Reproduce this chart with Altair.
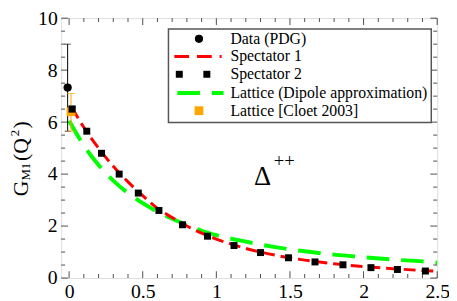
import altair as alt
import pandas as pd

# ---------------- data ----------------
# Spectator 1 (red dashed curve)
s1_q2 = [0.02, 0.1, 0.2, 0.3, 0.4, 0.5, 0.6, 0.7, 0.8, 0.9, 1.0, 1.2, 1.4, 1.6, 1.8, 2.0, 2.2, 2.4, 2.5]
s1_g = [6.55, 5.8, 5.0, 4.3, 3.7, 3.17, 2.68, 2.33, 2.0, 1.73, 1.5, 1.14, 0.88, 0.69, 0.55, 0.44, 0.36, 0.29, 0.26]

# Spectator 2 (black squares)
s2_q2 = [0.02, 0.12, 0.22, 0.34, 0.47, 0.61, 0.77, 0.94, 1.12, 1.30, 1.49, 1.67, 1.86, 2.05, 2.23, 2.42]
s2_g = [6.5, 5.65, 4.8, 4.0, 3.27, 2.6, 2.05, 1.61, 1.25, 0.98, 0.78, 0.62, 0.51, 0.40, 0.33, 0.27]

# Lattice (Dipole approximation) (green long dashes)
lat_q2 = [0.0, 0.1, 0.2, 0.3, 0.4, 0.5, 0.6, 0.7, 0.8, 0.9, 1.0, 1.2, 1.4, 1.6, 1.8, 2.0, 2.2, 2.4, 2.5]
lat_g = [6.05, 5.1, 4.35, 3.75, 3.27, 2.88, 2.55, 2.28, 2.04, 1.82, 1.65, 1.4, 1.19, 1.03, 0.9, 0.8, 0.71, 0.64, 0.59]

# Data (PDG)
pdg_q2 = [-0.01]
pdg_g = [7.33]
pdg_lo = [5.65]
pdg_hi = [9.0]

# Lattice [Cloet 2003]
cl_q2 = [0.013]
cl_g = [6.4]
cl_lo = [5.65]
cl_hi = [7.1]

# axis ticks
x_major = [0, 0.5, 1, 1.5, 2, 2.5]
x_minor = [0.1, 0.2, 0.3, 0.4, 0.6, 0.7, 0.8, 0.9, 1.1, 1.2, 1.3, 1.4,
           1.6, 1.7, 1.8, 1.9, 2.1, 2.2, 2.3, 2.4]
y_major = [0, 2, 4, 6, 8, 10]
y_minor = [0.5, 1, 1.5, 2.5, 3, 3.5, 4.5, 5, 5.5, 6.5, 7, 7.5, 8.5, 9, 9.5]

legend_labels = ["Data (PDG)", "Spectator 1", "Spectator 2",
                 "Lattice (Dipole approximation)", "Lattice [Cloet 2003]"]

# ---------------- layout ----------------
W, H = 382, 264
FONT = "Liberation Serif, Times New Roman, Times, serif"
XDOM = [-0.054, 2.5]
YDOM = [0, 10]

x_axis = alt.Axis(values=x_major, format="~g", ticks=False, domain=False, grid=False,
                  labelFont=FONT, labelFontSize=20, labelColor="black",
                  labelPadding=4, labelFlush=False, title=None)
y_axis = alt.Axis(values=y_major, format="d", ticks=False, domain=False, grid=False,
                  labelFont=FONT, labelFontSize=20, labelColor="black",
                  labelPadding=4, labelFlush=False, title=None)


def X(f):
    return alt.X(f, type="quantitative", scale=alt.Scale(domain=XDOM, nice=False, zero=False), axis=x_axis)


def Y(f):
    return alt.Y(f, type="quantitative", scale=alt.Scale(domain=YDOM, nice=False, zero=False), axis=y_axis)


def Y2(f):
    return alt.Y2(f)


s1 = pd.DataFrame({"q2": s1_q2, "g": s1_g})
s2 = pd.DataFrame({"q2": s2_q2, "g": s2_g})
lat = pd.DataFrame({"q2": lat_q2, "g": lat_g})
pdg = pd.DataFrame({"q2": pdg_q2, "g": pdg_g, "lo": pdg_lo, "hi": pdg_hi})
cl = pd.DataFrame({"q2": cl_q2, "g": cl_g, "lo": cl_lo, "hi": cl_hi})

layers = []

lat_line = alt.Chart(lat).mark_line(color="#00ff00", strokeWidth=4, strokeDash=[23, 12],
                                    interpolate="monotone").encode(x=X("q2"), y=Y("g"))
s1_line = alt.Chart(s1).mark_line(color="#ff0000", strokeWidth=3, strokeDash=[12, 6],
                                  interpolate="monotone").encode(x=X("q2"), y=Y("g"))
s2_pts = alt.Chart(s2).mark_point(shape="square", filled=True, color="black", size=50,
                                  opacity=1).encode(x=X("q2"), y=Y("g"))

pdg_bar = alt.Chart(pdg).mark_rule(color="black", strokeWidth=1).encode(
    x=X("q2"), y=Y("lo"), y2=Y2("hi"))
pdg_cap_lo = alt.Chart(pdg).mark_tick(orient="horizontal", color="black", size=6, thickness=1).encode(
    x=X("q2"), y=Y("lo"))
pdg_cap_hi = alt.Chart(pdg).mark_tick(orient="horizontal", color="black", size=6, thickness=1).encode(
    x=X("q2"), y=Y("hi"))
pdg_pt = alt.Chart(pdg).mark_point(shape="circle", filled=True, color="black", size=70,
                                   opacity=1).encode(x=X("q2"), y=Y("g"))

cl_bar = alt.Chart(cl).mark_rule(color="#ffa500", strokeWidth=1).encode(
    x=X("q2"), y=Y("lo"), y2=Y2("hi"))
cl_cap_lo = alt.Chart(cl).mark_tick(orient="horizontal", color="#ffa500", size=8, thickness=1).encode(
    x=X("q2"), y=Y("lo"))
cl_cap_hi = alt.Chart(cl).mark_tick(orient="horizontal", color="#ffa500", size=8, thickness=1).encode(
    x=X("q2"), y=Y("hi"))
cl_pt = alt.Chart(cl).mark_point(shape="square", filled=True, color="#ffa500", size=80,
                                 opacity=1).encode(x=X("q2"), y=Y("g"))

layers += [lat_line, s1_line, s2_pts, pdg_bar, pdg_cap_lo, pdg_cap_hi,
           cl_bar, cl_cap_lo, cl_cap_hi, cl_pt, s2_pts.transform_filter("datum.q2 < 0.05"), pdg_pt]

# inward ticks on all four sides
xM = pd.DataFrame({"v": x_major})
xm = pd.DataFrame({"v": x_minor})
yM = pd.DataFrame({"v": y_major})
ym = pd.DataFrame({"v": y_minor})
for df, L in ((xM, 7), (xm, 4)):
    layers.append(alt.Chart(df).mark_tick(orient="vertical", size=L, thickness=1, color="black").encode(
        x=X("v"), y=alt.value(H - L / 2)))
    layers.append(alt.Chart(df).mark_tick(orient="vertical", size=L, thickness=1, color="black").encode(
        x=X("v"), y=alt.value(L / 2)))
for df, L in ((yM, 7), (ym, 4)):
    layers.append(alt.Chart(df).mark_tick(orient="horizontal", size=L, thickness=1, color="black").encode(
        y=Y("v"), x=alt.value(L / 2)))
    layers.append(alt.Chart(df).mark_tick(orient="horizontal", size=L, thickness=1, color="black").encode(
        y=Y("v"), x=alt.value(W - L / 2)))

# ---------------- legend (drawn manually) ----------------
one = pd.DataFrame({"k": [0]})
layers.append(alt.Chart(one).mark_rect(fill="white", stroke="#555555", strokeWidth=1.5).encode(
    x=alt.value(109), x2=alt.value(376), y=alt.value(11), y2=alt.value(106)))
rows_y = [21, 39, 57, 76, 94]
for lab, ry in zip(legend_labels, rows_y):
    layers.append(alt.Chart(pd.DataFrame({"t": [lab]})).mark_text(
        font=FONT, fontSize=16, align="left", baseline="middle", color="black").encode(
        x=alt.value(172), y=alt.value(ry), text="t:N"))
layers.append(alt.Chart(one).mark_point(shape="circle", filled=True, color="black", size=70, opacity=1).encode(
    x=alt.value(140), y=alt.value(rows_y[0])))
layers.append(alt.Chart(one).mark_rule(color="#ff0000", strokeWidth=3, strokeDash=[15, 8]).encode(
    x=alt.value(115), x2=alt.value(163), y=alt.value(rows_y[1])))
for sx in (120, 148):
    layers.append(alt.Chart(one).mark_point(shape="square", filled=True, color="black", size=50, opacity=1).encode(
        x=alt.value(sx), y=alt.value(rows_y[2])))
layers.append(alt.Chart(one).mark_rule(color="#00ff00", strokeWidth=4, strokeDash=[23, 12]).encode(
    x=alt.value(118), x2=alt.value(165), y=alt.value(rows_y[3])))
layers.append(alt.Chart(one).mark_point(shape="square", filled=True, color="#ffa500", size=80, opacity=1).encode(
    x=alt.value(140), y=alt.value(rows_y[4])))

# ---------------- annotations ----------------
layers.append(alt.Chart(pd.DataFrame({"t": ["Δ"]})).mark_text(
    font=FONT, fontSize=27, align="left", baseline="alphabetic", color="black").encode(
    x=alt.value(196), y=alt.value(169), text="t:N"))
layers.append(alt.Chart(pd.DataFrame({"t": ["++"]})).mark_text(
    font=FONT, fontSize=19, align="left", baseline="alphabetic", color="black").encode(
    x=alt.value(216), y=alt.value(151), text="t:N"))

# y-axis title G_M1 (Q^2), built from pieces (rotated)
title_parts = [("G", 22, -34, 181), ("M1", 13, -32, 165), ("(Q", 22, -34, 145),
               ("2", 13, -43, 120), (")", 22, -34, 112)]
for txt, fs, tx, ty in title_parts:
    layers.append(alt.Chart(pd.DataFrame({"t": [txt]})).mark_text(
        font=FONT, fontSize=fs, align="left", baseline="alphabetic", angle=270, color="black").encode(
        x=alt.value(tx), y=alt.value(ty), text="t:N"))

chart = alt.layer(*layers).properties(
    width=W, height=H,
    autosize=alt.AutoSizeParams(type="none"),
    padding={"left": 54, "top": 8, "right": 12, "bottom": 21},
).configure_view(stroke="black", strokeWidth=1.5).configure(background="white")

chart.save("out.html", embed_options={"renderer": "svg", "actions": False})
